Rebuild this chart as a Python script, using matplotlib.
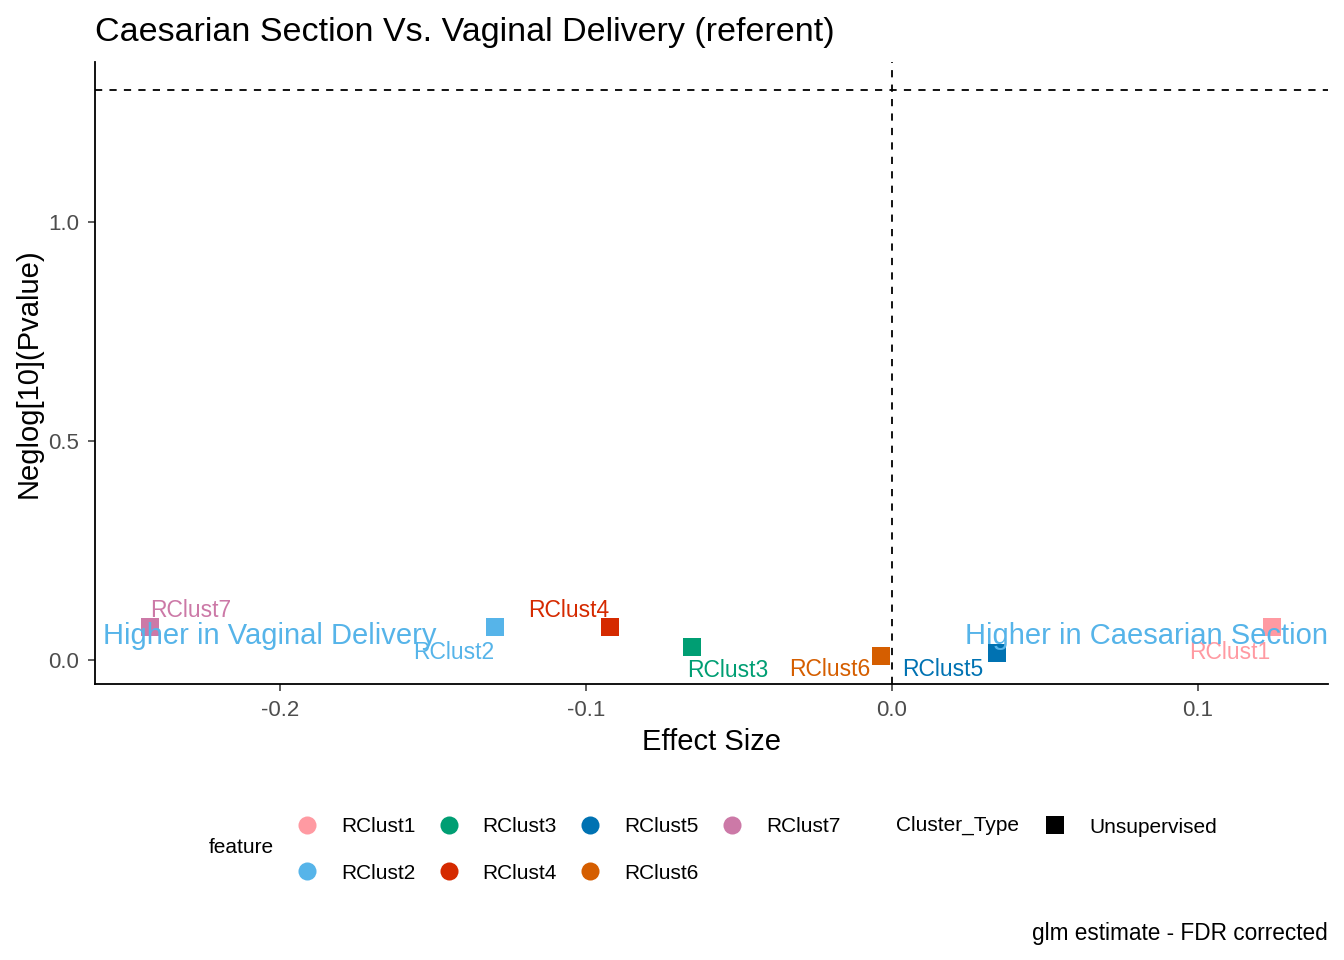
import matplotlib
matplotlib.use("Agg")
import matplotlib.pyplot as plt
from matplotlib.lines import Line2D

plt.rcParams['font.family'] = ['Liberation Sans', 'DejaVu Sans']

features = ["RClust1", "RClust2", "RClust3", "RClust4", "RClust5", "RClust6", "RClust7"]
effect = [0.1242, -0.1297, -0.0654, -0.0922, 0.0343, -0.0036, -0.2425]
neglogp = [0.075, 0.075, 0.030, 0.075, 0.016, 0.009, 0.075]
colors = ["#FF9AA2", "#56B4E9", "#009E73", "#D52A00", "#0072B2", "#D55E00", "#CC79A7"]
# label offsets (points) mimicking repel placement
label_offsets = {
    "RClust1": (-30, -18), "RClust2": (-30, -18), "RClust3": (26, -17),
    "RClust4": (-30, 12), "RClust5": (-39, -12), "RClust6": (-37, -10),
    "RClust7": (29, 12),
}
sig_line = 1.30103

fig = plt.figure(figsize=(13.44, 9.6), dpi=100)
ax = fig.add_axes([0.0707, 0.2875, 0.9173, 0.6479])

ax.axhline(sig_line, color="black", linestyle=(0, (4, 4)), linewidth=1.3, zorder=1)
ax.axvline(0, color="black", linestyle=(0, (4, 4)), linewidth=1.3, zorder=1)

for f, x, y, c in zip(features, effect, neglogp, colors):
    ax.scatter([x], [y], marker="s", s=150, color=c, zorder=3, linewidths=0)
    dx, dy = label_offsets[f]
    ax.annotate(f, (x, y), xytext=(dx, dy), textcoords="offset points",
                ha="center", va="center", color=c, fontsize=16.5, zorder=4)

ax.text(0.0065, 0.077, "Higher in Vaginal Delivery", transform=ax.transAxes,
        ha="left", va="center", color="#56B4E9", fontsize=21, zorder=5)
ax.text(1.0, 0.077, "Higher in Caesarian Section", transform=ax.transAxes,
        ha="right", va="center", color="#56B4E9", fontsize=21, zorder=5)

ax.set_xlim(-0.2605, 0.1425)
ax.set_ylim(-0.0548, 1.365)
ax.set_xticks([-0.2, -0.1, 0.0, 0.1])
ax.set_xticklabels(["-0.2", "-0.1", "0.0", "0.1"])
ax.set_yticks([0.0, 0.5, 1.0])
ax.set_yticklabels(["0.0", "0.5", "1.0"])
for s in ["top", "right"]:
    ax.spines[s].set_visible(False)
for s in ["left", "bottom"]:
    ax.spines[s].set_linewidth(1.3)
ax.tick_params(axis="both", length=5, width=1.1, color="#333333",
               labelsize=16, labelcolor="#4D4D4D", pad=6.5)

ax.set_xlabel("Effect Size", fontsize=21, labelpad=5)
ax.set_ylabel("Neglog[10](Pvalue)", fontsize=21, labelpad=4)
ax.set_title("Caesarian Section Vs. Vaginal Delivery (referent)", fontsize=24.5,
             loc="left", pad=15, x=0.0)

# legends
handles = [Line2D([0], [0], marker="o", linestyle="none", markersize=13,
                  markerfacecolor=c, markeredgewidth=0) for c in colors]
leg1 = fig.legend(handles, features, ncol=4, loc="center left",
                  bbox_to_anchor=(0.2068, 0.1146), frameon=False, fontsize=15,
                  handlelength=1.0, handletextpad=1.13, columnspacing=1.10,
                  labelspacing=1.3)
fig.text(0.155, 0.1167, "feature", fontsize=15, ha="left", va="center")

sq = [Line2D([0], [0], marker="s", linestyle="none", markersize=13,
             markerfacecolor="black", markeredgewidth=0)]
leg2 = fig.legend(sq, ["Unsupervised"], loc="center left",
                  bbox_to_anchor=(0.7634, 0.1385), frameon=False, fontsize=15,
                  handlelength=1.0, handletextpad=1.13)
fig.text(0.667, 0.1406, "Cluster_Type", fontsize=15, ha="left", va="center")

fig.text(0.988, 0.028, "glm estimate - FDR corrected", fontsize=16.3,
         ha="right", va="center")

fig.savefig("out.png", dpi=100)
